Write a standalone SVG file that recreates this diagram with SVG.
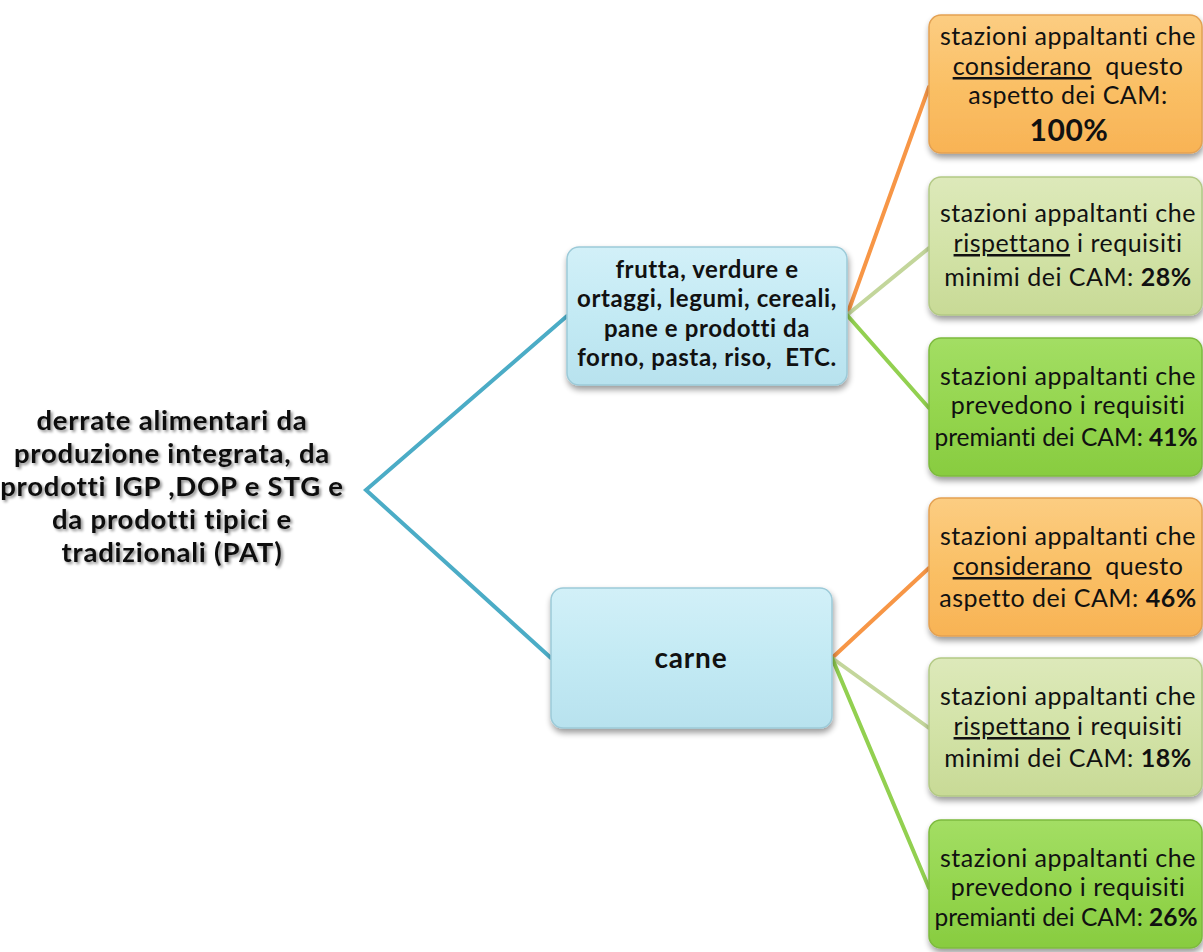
<svg xmlns="http://www.w3.org/2000/svg" width="1203" height="952" viewBox="0 0 1203 952">
<style>
  text { font-variant-ligatures: none; }
  .t { font-family: Lato, "Open Sans", sans-serif; font-size: 25px; letter-spacing: 0.5px; fill: #111; text-anchor: middle; }
  .p { letter-spacing: 0; font-size: 24.5px; }
  .b { font-weight: bold; }
  .mid { font-family: Lato, "Open Sans", sans-serif; font-size: 24px; letter-spacing: 0.6px; font-weight: bold; fill: #111; text-anchor: middle; }
  .root { font-family: Lato, "Open Sans", sans-serif; font-size: 27.5px; letter-spacing: 0.8px; font-weight: bold; fill: #111; text-anchor: middle; }
  .c { fill: none; stroke-width: 4; stroke-linecap: round; }
  .u { text-decoration: underline; }
</style>
<defs>
  <linearGradient id="gO" x1="0" y1="0" x2="0" y2="1">
    <stop offset="0" stop-color="#FCCD82"/>
    <stop offset="0.5" stop-color="#FAC066"/>
    <stop offset="1" stop-color="#F8B355"/>
  </linearGradient>
  <linearGradient id="gL" x1="0" y1="0" x2="0" y2="1">
    <stop offset="0" stop-color="#DDE9BA"/>
    <stop offset="0.5" stop-color="#D3E3A8"/>
    <stop offset="1" stop-color="#C8DA96"/>
  </linearGradient>
  <linearGradient id="gG" x1="0" y1="0" x2="0" y2="1">
    <stop offset="0" stop-color="#A3DE64"/>
    <stop offset="0.5" stop-color="#95D64F"/>
    <stop offset="1" stop-color="#88CC40"/>
  </linearGradient>
  <linearGradient id="gB" x1="0" y1="0" x2="0" y2="1">
    <stop offset="0" stop-color="#D2F0F8"/>
    <stop offset="0.5" stop-color="#C3EAF4"/>
    <stop offset="1" stop-color="#B8E2EE"/>
  </linearGradient>
  <filter id="sh" x="-10%" y="-10%" width="125%" height="130%">
    <feGaussianBlur in="SourceAlpha" stdDeviation="3"/>
    <feOffset dx="1" dy="4" result="o"/>
    <feComponentTransfer><feFuncA type="linear" slope="0.4"/></feComponentTransfer>
    <feMerge><feMergeNode/><feMergeNode in="SourceGraphic"/></feMerge>
  </filter>
  <filter id="tsh" x="-10%" y="-10%" width="120%" height="130%">
    <feGaussianBlur in="SourceAlpha" stdDeviation="1.5"/>
    <feOffset dx="1.5" dy="2" result="o"/>
    <feComponentTransfer><feFuncA type="linear" slope="0.45"/></feComponentTransfer>
    <feMerge><feMergeNode/><feMergeNode in="SourceGraphic"/></feMerge>
  </filter>
</defs>
<rect width="1203" height="952" fill="#ffffff"/>

<g id="connectors">
  <path class="c" stroke="#4BACC6" d="M567,316 L366,490 L551,658"/>
  <path class="c" stroke="#F79646" d="M847,315 L929,87"/>
  <path class="c" stroke="#C3D69B" d="M847,315 L929,248"/>
  <path class="c" stroke="#92D050" d="M847,315 L929,408"/>
  <path class="c" stroke="#F79646" d="M832,658 L929,568"/>
  <path class="c" stroke="#C3D69B" d="M832,658 L929,728"/>
  <path class="c" stroke="#92D050" d="M832,658 L929,888"/>
</g>

<g id="root">
  <g filter="url(#tsh)">
    <text class="root" x="172" y="430">derrate alimentari da</text>
    <text class="root" x="172" y="463">produzione integrata, da</text>
    <text class="root" x="172" y="496">prodotti IGP ,DOP e STG e</text>
    <text class="root" x="172" y="529">da prodotti tipici e</text>
    <text class="root" x="172" y="562">tradizionali (PAT)</text>
  </g>
</g>

<g id="frutta">
  <rect x="567" y="247" width="280" height="138" rx="12" fill="url(#gB)" stroke="#9CCAD8" stroke-width="1.5" filter="url(#sh)"/>
  <text class="mid" x="707" y="278">frutta, verdure e</text>
  <text class="mid" x="707" y="307">ortaggi, legumi, cereali,</text>
  <text class="mid" x="707" y="337">pane e prodotti da</text>
  <text class="mid" x="707" y="366" xml:space="preserve">forno, pasta, riso,  ETC.</text>
</g>

<g id="carne">
  <rect x="551" y="588" width="281" height="140" rx="12" fill="url(#gB)" stroke="#9CCAD8" stroke-width="1.5" filter="url(#sh)"/>
  <text class="mid" x="691" y="668" style="font-size:28px;letter-spacing:0.8px">carne</text>
</g>

<g id="f-considerano">
  <rect x="929" y="15" width="273" height="138" rx="12" fill="url(#gO)" stroke="#E3A152" stroke-width="1.5" filter="url(#sh)"/>
  <text class="t" x="1068" y="45">stazioni appaltanti che</text>
  <text class="t" x="1068" y="75" xml:space="preserve"><tspan class="u">considerano</tspan>  questo</text>
  <text class="t" x="1068" y="104">aspetto dei CAM:</text>
  <text class="t b" x="1069" y="141" style="font-size:30px">100%</text>
</g>

<g id="f-rispettano">
  <rect x="929" y="177" width="273" height="138" rx="12" fill="url(#gL)" stroke="#B3C985" stroke-width="1.5" filter="url(#sh)"/>
  <text class="t" x="1068" y="222">stazioni appaltanti che</text>
  <text class="t" x="1068" y="252"><tspan class="u">rispettano</tspan> i requisiti</text>
  <text class="t" x="1068" y="286">minimi dei CAM: <tspan class="b">28%</tspan></text>
</g>

<g id="f-prevedono">
  <rect x="929" y="338" width="273" height="138" rx="12" fill="url(#gG)" stroke="#7DBA3E" stroke-width="1.5" filter="url(#sh)"/>
  <text class="t" x="1068" y="385">stazioni appaltanti che</text>
  <text class="t" x="1068" y="414">prevedono i requisiti</text>
  <text class="t p" x="1066" y="446">premianti dei CAM: <tspan class="b">41%</tspan></text>
</g>

<g id="c-considerano">
  <rect x="929" y="498" width="273" height="138" rx="12" fill="url(#gO)" stroke="#E3A152" stroke-width="1.5" filter="url(#sh)"/>
  <text class="t" x="1068" y="545">stazioni appaltanti che</text>
  <text class="t" x="1068" y="575" xml:space="preserve"><tspan class="u">considerano</tspan>  questo</text>
  <text class="t" x="1068" y="607">aspetto dei CAM: <tspan class="b">46%</tspan></text>
</g>

<g id="c-rispettano">
  <rect x="929" y="658" width="273" height="138" rx="12" fill="url(#gL)" stroke="#B3C985" stroke-width="1.5" filter="url(#sh)"/>
  <text class="t" x="1068" y="705">stazioni appaltanti che</text>
  <text class="t" x="1068" y="735"><tspan class="u">rispettano</tspan> i requisiti</text>
  <text class="t" x="1068" y="767">minimi dei CAM: <tspan class="b">18%</tspan></text>
</g>

<g id="c-prevedono">
  <rect x="929" y="820" width="273" height="128" rx="12" fill="url(#gG)" stroke="#7DBA3E" stroke-width="1.5" filter="url(#sh)"/>
  <text class="t" x="1068" y="867">stazioni appaltanti che</text>
  <text class="t" x="1068" y="896">prevedono i requisiti</text>
  <text class="t p" x="1066" y="926">premianti dei CAM: <tspan class="b">26%</tspan></text>
</g>
</svg>
